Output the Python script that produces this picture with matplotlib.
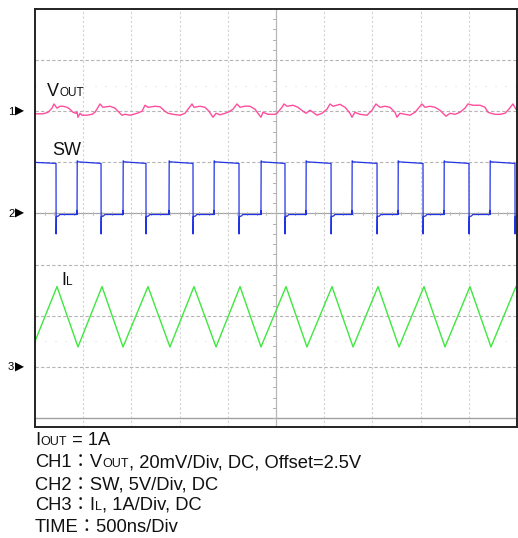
import matplotlib.pyplot as plt

W, H = 518, 538

# scope settings
ns_per_div = 500
ch1_mv_per_div, ch1_pos = 20, 2      # VOUT, marker "1"
ch2_v_per_div, ch2_pos = 5, 0        # SW, marker "2"
ch3_a_per_div, ch3_pos = 1, -3       # IL, marker "3"

# CH1: VOUT ripple (ns, mV around offset)
vout_t = [0, 10, 83, 135, 176, 197, 228, 259, 290, 332, 363, 394, 425, 436, 446, 467, 488, 539, 591,
          622, 654, 674, 705, 778, 830, 861, 902, 934, 985, 1058, 1110, 1141, 1172, 1245, 1297, 1348,
          1380, 1431, 1504, 1556, 1587, 1629, 1649, 1712, 1763, 1805, 1846, 1878, 1919, 1971, 2002,
          2054, 2095, 2127, 2178, 2230, 2282, 2313, 2344, 2365, 2417, 2490, 2510, 2562, 2583, 2614,
          2676, 2728, 2780, 2811, 2853, 2884, 2925, 2977, 3029, 3060, 3091, 3164, 3216, 3268, 3288,
          3319, 3371, 3444, 3496, 3537, 3579, 3631, 3682, 3734, 3755, 3786, 3838, 3890, 3942, 3994,
          4014, 4045, 4097, 4149, 4201, 4232, 4263, 4305, 4357, 4408, 4460, 4491, 4543, 4616, 4668,
          4699, 4730, 4772, 4823, 4875, 4906, 4958, 4989, 5000]
vout_mv = [-1.0, -1.0, -1.0, -0.4, 1.2, 2.85, 1.2, 1.95, 1.95, 1.55, 0.8, -0.4, -0.8, -0.3, -2.35, -0.8,
           -1.55, -1.55, -1.2, -0.4, 1.55, 2.85, 1.55, 1.95, 1.2, 0.0, -1.55, -1.2, -1.55, -0.8, 0.0,
           2.35, 1.55, 1.95, 1.75, 0.0, -0.8, -1.2, -1.55, -0.8, 0.8, 2.85, 1.55, 1.95, 1.55, 0.0,
           -2.35, -0.8, -1.4, -0.8, -0.4, 0.8, 2.85, 1.55, 2.0, 1.95, 0.8, -0.8, -2.35, -0.4, -1.2,
           -1.2, -0.8, 1.55, 2.85, 1.95, 2.35, 1.55, 0.0, -0.8, 0.4, -0.4, -1.55, -0.8, 0.8, 2.85,
           1.95, 2.7, 1.55, -0.8, -2.35, -0.4, -1.2, -1.55, 0.4, 2.85, 1.55, 1.95, 1.55, -0.4, -2.35,
           -0.8, -1.2, -1.55, -0.4, 1.95, 2.85, 1.55, 1.95, 1.55, 0.4, -0.8, -1.95, -0.8, -1.2, -0.4,
           1.2, 2.85, 2.35, 2.35, 1.55, -0.4, -0.8, -1.2, -1.2, -0.8, 0.4, 2.85, 0.8, 0.4]

# CH2: SW edges (ns) and levels (V)
sw_fall_ns = [218, 685, 1151, 1639, 2116, 2593, 3071, 3548, 4025, 4502, 4979]
sw_rise_ns = [436, 913, 1390, 1857, 2344, 2811, 3288, 3766, 4243, 4720]
sw_high_start, sw_high_end = 5.05, 4.9
sw_low = -0.1
sw_undershoot = -2.0

# CH3: inductor current corners (ns, A)
il_t = [0, 228, 446, 695, 913, 1172, 1400, 1649, 1878, 2127, 2344, 2604, 2821, 3081, 3299,
        3558, 3776, 4035, 4253, 4512, 4730, 4989, 5000]
il_a = [0.5, 1.57, 0.39, 1.57, 0.39, 1.57, 0.39, 1.57, 0.39, 1.57, 0.39, 1.57, 0.39, 1.57, 0.39,
        1.57, 0.39, 1.57, 0.39, 1.57, 0.39, 1.57, 1.55]

# build SW step trace from the edges
edges = sorted([(t, 'f') for t in sw_fall_ns] + [(t, 'r') for t in sw_rise_ns])
sw_t, sw_v = [0], [5.0]
for t, kind in edges:
    if kind == 'f':
        sw_t += [t, t + 1, t + 3, t + 25, t + 40]
        sw_v += [sw_high_end, sw_undershoot, -0.3, -0.25, sw_low]
    else:
        sw_t += [t - 3, t - 1, t, t + 2, t + 12]
        sw_v += [sw_low, 0.3, sw_low, sw_high_start + 0.1, sw_high_start]
sw_t.append(5000)
sw_v.append(sw_low)

plt.rcParams['font.family'] = ['Liberation Sans', 'Noto Sans CJK JP', 'DejaVu Sans']

fig = plt.figure(figsize=(W / 100, H / 100), dpi=100)
ax = fig.add_axes([35 / W, 1 - 427 / H, 482 / W, 418 / H])
y_bot = -4 - 9 / 51.1
ax.set_xlim(0, 10 * ns_per_div)
ax.set_ylim(y_bot, 4)
ax.set_xticks([])
ax.set_yticks([])
for s in ax.spines.values():
    s.set_color('#222222')
    s.set_linewidth(1.4)

# graticule
for k in range(1, 10):
    if k == 5:
        continue
    ax.axvline(k * ns_per_div, color='#d2d2d2', lw=0.8, ls=(0, (2, 2)), zorder=0)
for k in [-3, -2, -1, 1, 2, 3]:
    ax.axhline(k, color='#b4b4b4', lw=0.8, ls=(0, (3, 2)), zorder=0)
ax.axhline(0, color='#a8a8a8', lw=0.9, zorder=0)
ax.axhline(-4, color='#a0a0a0', lw=1.0, zorder=0)
ax.axvline(5 * ns_per_div, color='#b8b8b8', lw=0.9, zorder=0)
for k in [2.5, -2.5]:
    ax.axhline(k, color='#dddddd', lw=0.8, ls=(0, (1, 8)), zorder=0)

# minor ticks on centre lines
dx = ns_per_div / 5
for i in range(1, 50):
    ax.plot([i * dx, i * dx], [-0.03, 0.03], color='#c0c0c0', lw=0.7, zorder=0)
for j in range(-20, 20):
    y = j / 5
    if y < -4 or y > 4:
        continue
    ax.plot([2500 - 30, 2500], [y, y], color='#b0b0b0', lw=0.7, zorder=0)

# traces
ax.plot(vout_t, [ch1_pos + v / ch1_mv_per_div for v in vout_mv], color='#ff4d9d', lw=1.0)
ax.plot(sw_t, [ch2_pos + v / ch2_v_per_div for v in sw_v], color='#2233e6', lw=0.9)
ax.plot(il_t, [ch3_pos + a / ch3_a_per_div for a in il_a], color='#3ee83e', lw=1.0)

renderer = fig.canvas.get_renderer()


def rich(x_px, y_px, parts, color='#111111'):
    # parts: list of (text, fontsize); baseline at y_px
    for s, fs in parts:
        t = fig.text(x_px / W, 1 - y_px / H, s, fontsize=fs, color=color, va='baseline', ha='left')
        x_px += t.get_window_extent(renderer).width


# trace labels
rich(47, 96, [('V', 13), ('OUT', 8.5)])
rich(52, 155, [('SW', 13)])
rich(61, 285, [('I', 13), ('L', 8.5)])

# channel markers
for label, pos in [('1', ch1_pos), ('2', ch2_pos), ('3', ch3_pos)]:
    ypx = 214 - pos * 51.1
    fig.text(8 / W, 1 - ypx / H, label, fontsize=8, va='center', ha='left')
    fig.text(15 / W, 1 - (ypx - 0.5) / H, '\u25b6', fontsize=8.5, va='center', ha='left',
             family=['DejaVu Sans'])

# notes below screen
fs, fs_s = 13.2, 9
rich(35, 445, [('I', fs), ('OUT', fs_s), (' = 1A', fs)])
rich(35, 467, [('CH1\uff1aV', fs), ('OUT', fs_s), (', 20mV/Div, DC, Offset=2.5V', fs)])
rich(35, 489, [('CH2\uff1aSW, 5V/Div, DC', fs)])
rich(35, 510, [('CH3\uff1aI', fs), ('L', fs_s), (', 1A/Div, DC', fs)])
rich(35, 532, [('TIME\uff1a500ns/Div', fs)])

fig.savefig('out.png', dpi=100)
